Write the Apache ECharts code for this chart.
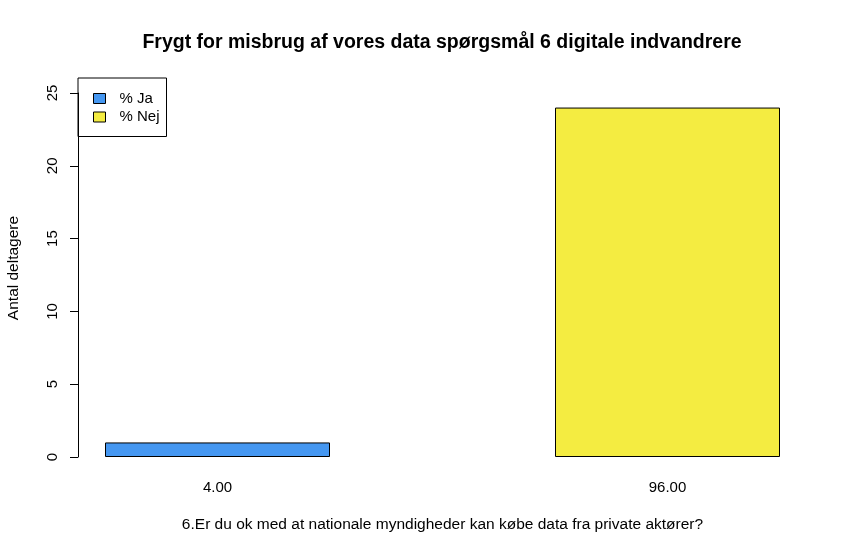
<!DOCTYPE html>
<html>
<head>
<meta charset="utf-8">
<script src="https://cdn.jsdelivr.net/npm/echarts@6/dist/echarts.min.js"></script>
<style>
  html, body { margin: 0; padding: 0; background: #fff; }
  #chart { width: 848px; height: 555px; }
</style>
</head>
<body>
<div id="chart"></div>
<script>
// chart data
var categories = ['4.00', '96.00'];
var seriesNames = ['% Ja', '% Nej'];
var counts = [1, 24];
var yTicks = [0, 5, 10, 15, 20, 25];

var barColors = ['#4597F1', '#F4EC41'];
var font = 'Liberation Sans, Arial, sans-serif';

window.onload = function () {

    var myChart = echarts.init(document.getElementById('chart'));

    // bar centres follow R barplot layout (width 1, space 1)
    var centres = categories.map(function (c, i) { return 1.5 + 2 * i; });

    var series = seriesNames.map(function (name, i) {
        return {
            name: name,
            type: 'bar',
            barWidth: 225,
            barGap: '-100%',
            itemStyle: { color: barColors[i], borderColor: '#000', borderWidth: 1 },
            data: [[centres[i], counts[i]]]
        };
    });

    var option = {
        animation: false,
        backgroundColor: '#fff',
        title: {
            text: 'Frygt for misbrug af vores data spørgsmål 6 digitale indvandrere',
            left: 437,
            top: 28,
            textAlign: 'center',
            textStyle: { fontFamily: font, fontSize: 19.5, fontWeight: 'bold', color: '#000' }
        },
        legend: {
            orient: 'vertical',
            left: 78,
            top: 78,
            data: seriesNames,
            icon: 'rect',
            itemWidth: 12,
            itemHeight: 10,
            itemGap: 3.5,
            padding: [13, 7, 12, 15],
            borderColor: '#000',
            borderWidth: 1,
            borderRadius: 0,
            selectedMode: false,
            textStyle: { fontFamily: font, fontSize: 15, color: '#000', padding: [0, 0, 0, 9] },
            itemStyle: { borderColor: '#000', borderWidth: 1 }
        },
        grid: { left: 78, right: 41, top: 93, bottom: 98, containLabel: false, outerBoundsMode: 'none' },
        xAxis: {
            type: 'value',
            min: 0.88,
            max: 4.12,
            name: '6.Er du ok med at nationale myndigheder kan købe data fra private aktører?',
            nameLocation: 'middle',
            nameGap: 60,
            nameTextStyle: { fontFamily: font, fontSize: 15.5, color: '#000' },
            splitLine: { show: false },
            axisLine: { show: false },
            axisTick: { show: false },
            axisLabel: {
                customValues: centres,
                margin: 23,
                fontFamily: font,
                fontSize: 15,
                color: '#000',
                formatter: function (v) {
                    return categories[centres.indexOf(v)];
                }
            }
        },
        yAxis: {
            type: 'value',
            min: yTicks[0],
            max: yTicks[yTicks.length - 1],
            interval: 5,
            name: 'Antal deltagere',
            nameLocation: 'middle',
            nameGap: 56,
            nameRotate: 90,
            nameTextStyle: { fontFamily: font, fontSize: 15.5, color: '#000', padding: [0, 0, 0, 14] },
            splitLine: { show: false },
            axisLine: { show: true, lineStyle: { color: '#000', width: 1 } },
            axisTick: { show: true, length: 8, lineStyle: { color: '#000' } },
            axisLabel: {
                rotate: 90,
                margin: 25,
                fontFamily: font,
                fontSize: 15,
                color: '#000',
                verticalAlign: 'middle',
                align: 'center'
            }
        },
        series: series
    };

    myChart.setOption(option);
};
</script>
</body>
</html>
